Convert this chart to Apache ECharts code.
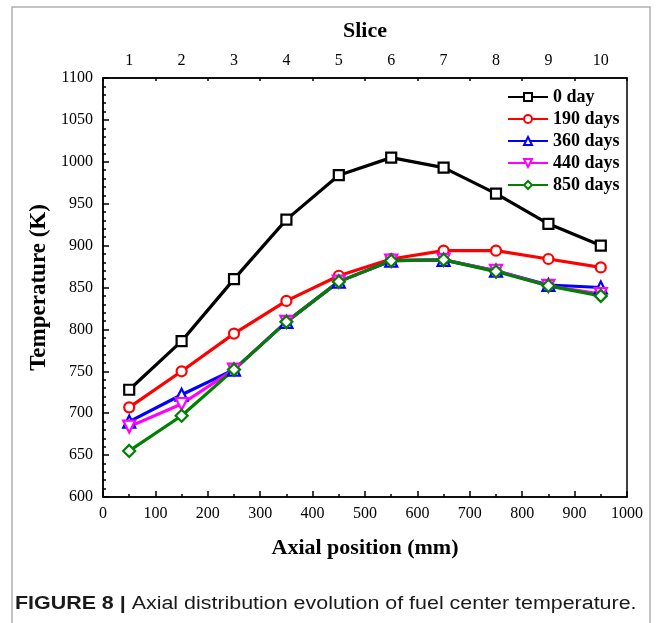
<!DOCTYPE html>
<html>
<head>
<meta charset="utf-8">
<script src="https://cdn.jsdelivr.net/npm/echarts@6/dist/echarts.min.js"></script>
<style>
  html, body { margin: 0; padding: 0; background: #fff; }
  #main { width: 663px; height: 623px; }
</style>
</head>
<body>
<div id="main"></div>
<script>
// axial position of each slice centre (mm)
const positions = [50, 150, 250, 350, 450, 550, 650, 750, 850, 950];
const slices = ["1", "2", "3", "4", "5", "6", "7", "8", "9", "10"];

const day0 = [728, 786, 860, 931, 984, 1005, 993, 962, 926, 900];
const day190 = [707, 750, 795, 834, 864, 884, 894, 894, 884, 874];
const day360 = [690, 722, 752, 809, 857, 882, 883, 870, 853, 850];
const day440 = [684, 711, 752, 809, 857, 882, 883, 870, 852, 842];
const day850 = [655, 697, 752, 809, 857, 882, 883, 869, 852, 840];

const serif = "Liberation Serif";

function pairs(vals) {
  return positions.map((x, i) => [x, vals[i]]);
}

function line(name, vals, color, symbol, size, rotate) {
  return {
    name: name,
    type: "line",
    data: pairs(vals),
    symbol: symbol,
    symbolSize: size,
    symbolRotate: rotate || 0,
    showAllSymbol: true,
    lineStyle: { color: color, width: 3.2 },
    itemStyle: { color: "#fff", borderColor: color, borderWidth: 2.2 },
    emphasis: { disabled: true },
    animation: false,
  };
}

const chart = echarts.init(document.getElementById("main"));

chart.setOption({
  animation: false,
  graphic: [
    {
      type: "rect",
      shape: { x: 12, y: 7, width: 638, height: 640 },
      style: { fill: "none", stroke: "#b0b0b0", lineWidth: 1.5 },
      silent: true,
    },
    {
      type: "text",
      x: 15,
      y: 595,
      scaleX: 1.19,
      style: {
        text: "{b|FIGURE 8 |} Axial distribution evolution of fuel center temperature.",
        font: '18px "Liberation Sans"',
        fill: "#1a1a1a",
        rich: {
          b: { fontFamily: "Liberation Sans", fontSize: 18, fontWeight: "bold", fill: "#1a1a1a" },
        },
      },
    },
  ],
  grid: [
    { left: 103, right: 36, top: 78, bottom: 126, show: true, borderColor: "#000", borderWidth: 1.5 },
    { left: 103, right: 36, top: 78, bottom: 126 },
  ],
  legend: {
    orient: "vertical",
    left: 507,
    top: 88,
    padding: 0,
    itemWidth: 40,
    itemHeight: 10,
    itemGap: 4,
    textStyle: { fontFamily: serif, fontWeight: "bold", fontSize: 18, color: "#000" },
    data: ["0 day", "190 days", "360 days", "440 days", "850 days"],
  },
  xAxis: [
    {
      type: "value",
      gridIndex: 0,
      min: 0,
      max: 1000,
      interval: 100,
      position: "bottom",
      name: "Axial position (mm)",
      nameLocation: "middle",
      nameGap: 40,
      nameTextStyle: { fontFamily: serif, fontWeight: "bold", fontSize: 22, color: "#000" },
      axisLine: { lineStyle: { color: "#000", width: 1.5 } },
      axisTick: { inside: true, length: 6, lineStyle: { color: "#000", width: 1.5 } },
      minorTick: { show: true, splitNumber: 2, length: 3, lineStyle: { color: "#000", width: 1.5 } },
      axisLabel: { fontFamily: serif, fontSize: 16, color: "#000", margin: 9, formatter: (v) => String(v) },
      splitLine: { show: false },
    },
    {
      type: "category",
      gridIndex: 0,
      data: slices,
      position: "top",
      boundaryGap: true,
      name: "Slice",
      nameLocation: "middle",
      nameGap: 36,
      nameTextStyle: { fontFamily: serif, fontWeight: "bold", fontSize: 22, color: "#000" },
      axisLine: { lineStyle: { color: "#000", width: 1.5 } },
      axisTick: { inside: true, alignWithLabel: true, length: 6, lineStyle: { color: "#000", width: 1.5 } },
      axisLabel: { fontFamily: serif, fontSize: 16, color: "#000", margin: 9 },
      splitLine: { show: false },
    },
    {
      type: "value",
      gridIndex: 1,
      min: 0,
      max: 1000,
      interval: 100,
      position: "top",
      axisLine: { show: false },
      axisTick: { inside: true, length: 3, lineStyle: { color: "#000", width: 1.5 } },
      axisLabel: { show: false },
      splitLine: { show: false },
    },
  ],
  yAxis: [
    {
      type: "value",
      gridIndex: 0,
      min: 600,
      max: 1100,
      interval: 50,
      name: "Temperature (K)",
      nameLocation: "middle",
      nameGap: 44,
      nameTextStyle: { fontFamily: serif, fontWeight: "bold", fontSize: 23, color: "#000" },
      axisLine: { lineStyle: { color: "#000", width: 1.5 } },
      axisTick: { inside: true, length: 6, lineStyle: { color: "#000", width: 1.5 } },
      minorTick: { show: true, splitNumber: 5, length: 3, lineStyle: { color: "#000", width: 1.5 } },
      axisLabel: { fontFamily: serif, fontSize: 16, color: "#000", margin: 10, formatter: (v) => String(v) },
      splitLine: { show: false },
    },
    {
      type: "value",
      gridIndex: 1,
      min: 600,
      max: 1100,
      show: false,
    },
  ],
  series: [
    line("0 day", day0, "#000000", "rect", 10),
    line("190 days", day190, "#ff0000", "circle", 10),
    line("360 days", day360, "#0000ff", "triangle", 12),
    line("440 days", day440, "#ff00ff", "triangle", 12, 180),
    line("850 days", day850, "#008000", "diamond", 12),
  ],
});
</script>
</body>
</html>
